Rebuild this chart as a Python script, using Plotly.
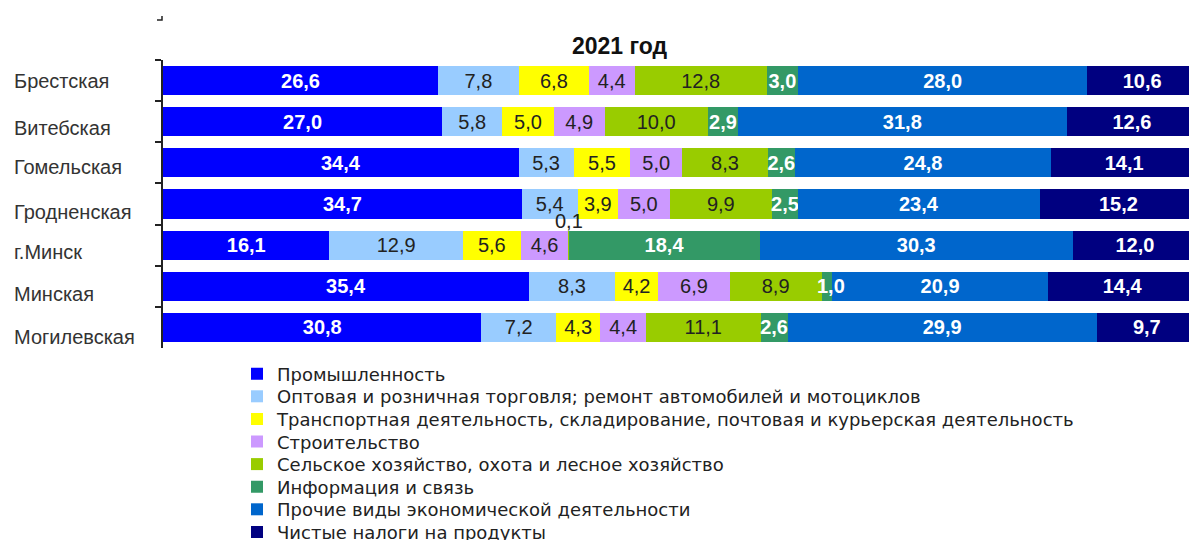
import plotly.graph_objects as go

regions = ["Брестская", "Витебская", "Гомельская", "Гродненская", "г.Минск", "Минская", "Могилевская"]

series_names = [
    "Промышленность",
    "Оптовая и розничная торговля; ремонт автомобилей и мотоциклов",
    "Транспортная деятельность, складирование, почтовая и курьерская деятельность",
    "Строительство",
    "Сельское хозяйство, охота и лесное хозяйство",
    "Информация и связь",
    "Прочие виды экономической деятельности",
    "Чистые налоги на продукты",
]

industry = [26.6, 27.0, 34.4, 34.7, 16.1, 35.4, 30.8]
trade = [7.8, 5.8, 5.3, 5.4, 12.9, 8.3, 7.2]
transport = [6.8, 5.0, 5.5, 3.9, 5.6, 4.2, 4.3]
construction = [4.4, 4.9, 5.0, 5.0, 4.6, 6.9, 4.4]
agriculture = [12.8, 10.0, 8.3, 9.9, 0.1, 8.9, 11.1]
ict = [3.0, 2.9, 2.6, 2.5, 18.4, 1.0, 2.6]
other = [28.0, 31.8, 24.8, 23.4, 30.3, 20.9, 29.9]
taxes = [10.6, 12.6, 14.1, 15.2, 12.0, 14.4, 9.7]

series_values = [industry, trade, transport, construction, agriculture, ict, other, taxes]
colors = ["#0000FF", "#99CCFF", "#FFFF00", "#CC99FF", "#99CC00", "#339966", "#0066CC", "#000080"]
light_text = [True, False, False, False, False, True, True, True]

FONT = "Liberation Sans, Arial, sans-serif"
WIDE = "DejaVu Sans, Liberation Sans, sans-serif"

# page has an 8px body margin: work in figure coordinates
OFF = 8
FIG_W, FIG_H = 1197 - OFF, 540 - OFF
PL, PT, PW, PH = 163 - OFF, 60 - OFF, 1034, 288
PB = FIG_H - PT - PH


def px_x(x):
    return (x - OFF - PL) / PW


def px_y(y):
    return 1 - (y - OFF - PT) / PH


def fmt(v):
    return f"{v:.1f}".replace(".", ",")


fig = go.Figure()
small_labels = []
for i, (name, vals, col, lt) in enumerate(zip(series_names, series_values, colors, light_text)):
    texts = []
    for j, v in enumerate(vals):
        if v < 1.5:
            texts.append("")
            base = sum(series_values[k][j] for k in range(i))
            small_labels.append((base + v / 2, regions[j], fmt(v), v < 0.5, lt))
        else:
            texts.append(fmt(v))
    fig.add_trace(go.Bar(
        name=name, y=regions, x=vals, orientation="h",
        marker=dict(color=col, line=dict(width=0)),
        text=texts, textposition="inside", insidetextanchor="middle",
        textangle=0, constraintext="none",
        insidetextfont=dict(family=FONT, size=20,
                            color="#FFFFFF" if lt else "#222222",
                            weight="bold" if lt else "normal"),
        hoverinfo="skip",
        legend="legend" if i == 0 else f"legend{i + 1}",
    ))

for x, y, t, above, lt in small_labels:
    if above:
        fig.add_annotation(x=x, y=y, text=t, showarrow=False, yshift=24,
                           font=dict(family=FONT, size=20, color="#222222"))
    else:
        fig.add_annotation(x=x, y=y, text=t, showarrow=False, xshift=4,
                           font=dict(family=FONT, size=20,
                                     color="#FFFFFF" if lt else "#222222",
                                     weight="bold" if lt else "normal"))

label_y = [81, 128, 167, 212, 252, 294, 337]
for r, ly in zip(regions, label_y):
    fig.add_annotation(x=px_x(12), xref="paper", y=px_y(ly), yref="paper",
                       text=r, showarrow=False, xanchor="left", yanchor="middle",
                       font=dict(family=FONT, size=20, color="#333333"))

fig.add_annotation(x=px_x(620), xref="paper", y=px_y(46), yref="paper",
                   text="<b>2021 год</b>", showarrow=False, xanchor="center", yanchor="middle",
                   font=dict(family=FONT, size=23, color="#111111"))

# small stray tick mark at the top-left of the original
fig.add_shape(type="path", xref="paper", yref="paper",
              path=f"M{px_x(157)},{px_y(20)} L{px_x(162)},{px_y(20)} L{px_x(162)},{px_y(16)}",
              line=dict(color="#222222", width=1.5))

legends = {}
first_y, step = 374, 22.6
for i in range(len(series_names)):
    key = "legend" if i == 0 else f"legend{i + 1}"
    legends[key] = dict(
        x=px_x(237), xanchor="left",
        y=px_y(first_y + step * i), yanchor="middle",
        traceorder="normal",
        font=dict(family=WIDE, size=18, color="#222222"),
        bgcolor="rgba(0,0,0,0)", borderwidth=0,
    )

fig.update_layout(
    width=FIG_W, height=FIG_H,
    margin=dict(l=PL, r=FIG_W - PL - PW, t=PT, b=PB, autoexpand=False),
    barmode="stack", bargap=0.29,
    separators=", ",
    plot_bgcolor="white", paper_bgcolor="white",
    uniformtext=dict(minsize=20, mode="show"),
    showlegend=True,
    xaxis=dict(range=[0, 100], visible=False, fixedrange=True),
    yaxis=dict(
        type="category", range=[6.5, -0.5], showticklabels=False,
        showline=True, linecolor="#222222", linewidth=1.5,
        ticks="outside", tickson="boundaries", ticklen=6, tickcolor="#222222", tickwidth=1.5,
        showgrid=False, zeroline=False,
    ),
    **legends,
)

fig.write_html("out.html")
